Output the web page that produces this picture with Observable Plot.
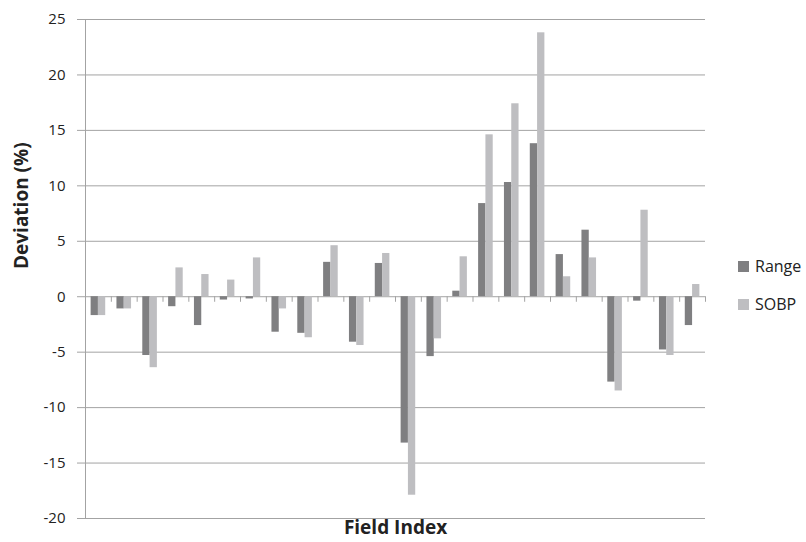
<!DOCTYPE html>
<html>
<head>
<meta charset="utf-8">
<script src="https://cdn.jsdelivr.net/npm/d3@7"></script>
<script src="https://cdn.jsdelivr.net/npm/@observablehq/plot@0.6"></script>
<style>
  html, body { margin: 0; padding: 0; background: #fff; }
  #wrap { position: relative; width: 806px; height: 542px; font-family: "Open Sans", sans-serif; }
  .legend { position: absolute; left: 738px; font-size: 16px; color: #222; display: flex; align-items: center; }
  .legend span.sw { display: inline-block; width: 11px; height: 11px; margin-right: 6px; }
</style>
</head>
<body>
<div id="wrap"></div>
<script>
const fieldIndex = [1,2,3,4,5,6,7,8,9,10,11,12,13,14,15,16,17,18,19,20,21,22,23,24];
const rangeDev = [-1.7,-1.1,-5.3,-0.9,-2.6,-0.3,-0.2,-3.2,-3.3,3.1,-4.1,3.0,-13.2,-5.4,0.5,8.4,10.3,13.8,3.8,6.0,-7.7,-0.4,-4.8,-2.6];
const sobpDev  = [-1.7,-1.1,-6.4,2.6,2.0,1.5,3.5,-1.1,-3.7,4.6,-4.4,3.9,-17.9,-3.8,3.6,14.6,17.4,23.8,1.8,3.5,-8.5,7.8,-5.3,1.1];
const yTicks = [-20,-15,-10,-5,0,5,10,15,20,25];
const seriesNames = ["Range", "SOBP"];
const seriesColors = ["#7f7f81", "#bebec1"];

const W = 806, H = 542, mL = 85, mR = 101, mT = 19, mB = 24;
const step = (W - mL - mR) / fieldIndex.length;
const barW = 7.3;
const pad = (step - 2 * barW) / 2;

const rows = fieldIndex.map((f, i) => ({field: f, Range: rangeDev[i], SOBP: sobpDev[i]}));
const gridCol = "#a3a3a3";

const chart = Plot.plot({
  width: W, height: H,
  marginLeft: mL, marginRight: mR, marginTop: mT, marginBottom: mB,
  style: {fontFamily: "Open Sans, sans-serif", fontSize: "15px", color: "#222", background: "#fff"},
  x: {type: "band", domain: fieldIndex, padding: 0, round: false, axis: null},
  y: {domain: [-20, 25], axis: null},
  marks: [
    Plot.gridY(yTicks, {stroke: gridCol, strokeOpacity: 1, strokeWidth: 1}),
    Plot.barY(rows, {x: "field", y: "Range", fill: seriesColors[0], insetLeft: pad, insetRight: step - pad - barW}),
    Plot.barY(rows, {x: "field", y: "SOBP", fill: seriesColors[1], insetLeft: pad + barW, insetRight: pad}),
    // category boundary ticks below the zero line
    Plot.ruleX(fieldIndex, {x: d => d, y1: 0, y2: -0.5, dx: -step / 2, stroke: gridCol}),
    Plot.ruleX([fieldIndex[fieldIndex.length - 1]], {x: d => d, y1: 0, y2: -0.5, dx: step / 2, stroke: gridCol}),
    // y axis line
    Plot.ruleX([fieldIndex[0]], {x: d => d, y1: -20, y2: 25, dx: -step / 2, stroke: gridCol}),
    Plot.axisY(yTicks, {tickSize: 8, tickPadding: 12, stroke: gridCol, fontSize: 15, fill: "#222", tickFormat: d => String(d)}),
    Plot.text(["Deviation (%)"], {frameAnchor: "left", rotate: -90, dx: -64, fontWeight: "bold", fontSize: 19, fill: "#222"}),
    Plot.text(["Field Index"], {frameAnchor: "bottom", dy: 15, fontWeight: "bold", fontSize: 19, fill: "#222"})
  ]
});

const wrap = document.getElementById("wrap");
wrap.appendChild(chart);
seriesNames.forEach((name, i) => {
  const d = document.createElement("div");
  d.className = "legend";
  d.style.top = (255 + i * 38) + "px";
  d.innerHTML = `<span class="sw" style="background:${seriesColors[i]}"></span>${name}`;
  wrap.appendChild(d);
});
</script>
</body>
</html>
